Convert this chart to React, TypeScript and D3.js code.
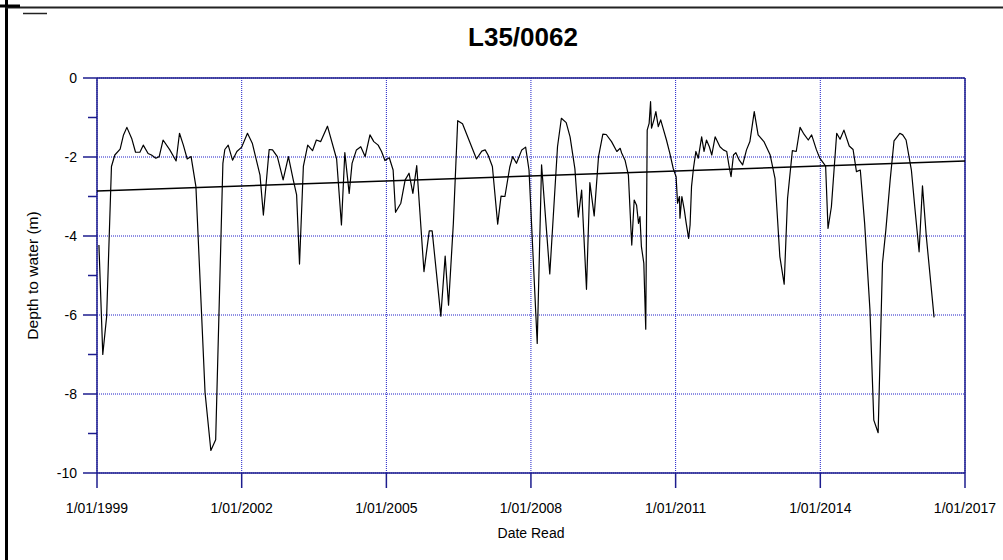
import React from 'react';
import * as d3 from 'd3';

const title = 'L35/0062';
const xLabel = 'Date Read';
const yLabel = 'Depth to water (m)';
const xTickYears = [1999, 2002, 2005, 2008, 2011, 2014, 2017];
const yMajorTicks = [0, -2, -4, -6, -8, -10];
const yMinorTicks = [-1, -3, -5, -7, -9];
const trendYears = [1999, 2017];
const trendDepths = [-2.86, -2.1];

// [decimal year, depth to water (m)]
const readings: [number, number][] = [
  [1999.04, -4.23], [1999.12, -7.0], [1999.2, -6.04], [1999.3, -2.24], [1999.37, -1.95],
  [1999.48, -1.8], [1999.55, -1.44], [1999.62, -1.25], [1999.72, -1.53], [1999.8, -1.88],
  [1999.89, -1.88], [1999.96, -1.7], [2000.06, -1.91], [2000.13, -1.95], [2000.22, -2.03],
  [2000.29, -1.99], [2000.37, -1.57], [2000.51, -1.82], [2000.64, -2.1], [2000.71, -1.4],
  [2000.79, -1.7], [2000.87, -2.05], [2000.95, -1.99], [2001.05, -2.75], [2001.24, -7.97],
  [2001.36, -9.43], [2001.46, -9.16], [2001.61, -2.16], [2001.65, -1.81], [2001.72, -1.7],
  [2001.81, -2.08], [2001.9, -1.86], [2002.0, -1.75], [2002.12, -1.4], [2002.22, -1.65],
  [2002.38, -2.46], [2002.45, -3.47], [2002.57, -1.81], [2002.64, -1.82], [2002.74, -1.99],
  [2002.86, -2.58], [2002.97, -1.99], [2003.07, -2.58], [2003.14, -2.96], [2003.2, -4.71],
  [2003.28, -2.24], [2003.37, -1.7], [2003.47, -1.84], [2003.55, -1.57], [2003.64, -1.61],
  [2003.78, -1.22], [2003.97, -2.05], [2004.07, -3.72], [2004.14, -1.89], [2004.23, -2.92],
  [2004.29, -2.16], [2004.38, -1.82], [2004.47, -1.74], [2004.56, -1.99], [2004.66, -1.44],
  [2004.74, -1.61], [2004.83, -1.7], [2004.9, -1.86], [2004.97, -2.09], [2005.06, -2.02],
  [2005.14, -2.33], [2005.19, -3.4], [2005.3, -3.17], [2005.39, -2.58], [2005.47, -2.41],
  [2005.55, -2.92], [2005.63, -2.22], [2005.78, -4.9], [2005.89, -3.87], [2005.95, -3.87],
  [2006.13, -6.03], [2006.22, -4.51], [2006.29, -5.75], [2006.39, -3.68], [2006.48, -1.08],
  [2006.58, -1.16], [2006.87, -2.05], [2006.98, -1.85], [2007.05, -1.82], [2007.11, -1.95],
  [2007.2, -2.24], [2007.31, -3.7], [2007.38, -2.99], [2007.46, -3.0], [2007.56, -2.26],
  [2007.62, -1.99], [2007.7, -2.16], [2007.81, -1.82], [2007.89, -1.75], [2007.96, -2.33],
  [2008.13, -6.72], [2008.22, -2.2], [2008.39, -4.96], [2008.55, -1.74], [2008.63, -1.02],
  [2008.73, -1.13], [2008.81, -1.49], [2008.91, -2.3], [2008.98, -3.52], [2009.05, -2.84],
  [2009.15, -5.35], [2009.22, -2.65], [2009.31, -3.49], [2009.4, -1.99], [2009.49, -1.42],
  [2009.56, -1.43], [2009.67, -1.61], [2009.78, -1.86], [2009.85, -1.78], [2009.88, -1.9],
  [2009.95, -2.08], [2010.02, -2.46], [2010.07, -3.76], [2010.09, -4.23], [2010.14, -3.09],
  [2010.19, -3.22], [2010.23, -3.68], [2010.26, -3.51], [2010.29, -4.27], [2010.34, -4.69],
  [2010.36, -5.54], [2010.38, -6.36], [2010.41, -1.32], [2010.45, -1.15], [2010.48, -0.6],
  [2010.5, -1.27], [2010.55, -1.06], [2010.59, -0.85], [2010.64, -1.23], [2010.69, -1.06],
  [2010.73, -1.23], [2010.81, -1.57], [2010.88, -1.91], [2010.95, -2.29], [2011.01, -2.5],
  [2011.04, -3.17], [2011.08, -3.0], [2011.09, -3.55], [2011.13, -3.0], [2011.18, -3.34],
  [2011.22, -3.68], [2011.27, -4.06], [2011.3, -3.72], [2011.33, -2.75], [2011.37, -2.29],
  [2011.42, -1.86], [2011.47, -2.03], [2011.54, -1.49], [2011.59, -1.86], [2011.64, -1.57],
  [2011.7, -1.74], [2011.75, -1.95], [2011.82, -1.49], [2011.92, -1.74], [2011.99, -1.82],
  [2012.06, -1.86], [2012.11, -2.24], [2012.15, -2.5], [2012.2, -1.95], [2012.25, -1.89],
  [2012.32, -2.08], [2012.39, -2.2], [2012.47, -1.82], [2012.54, -1.61], [2012.63, -0.85],
  [2012.71, -1.44], [2012.83, -1.61], [2012.96, -1.95], [2013.06, -2.54], [2013.16, -4.52],
  [2013.25, -5.22], [2013.32, -3.05], [2013.42, -1.84], [2013.5, -1.86], [2013.58, -1.25],
  [2013.65, -1.4], [2013.75, -1.57], [2013.82, -1.44], [2013.92, -1.82], [2013.99, -2.03],
  [2014.11, -2.23], [2014.16, -3.81], [2014.23, -3.26], [2014.34, -1.4], [2014.41, -1.55],
  [2014.49, -1.32], [2014.6, -1.72], [2014.68, -1.81], [2014.75, -2.37], [2014.83, -2.33],
  [2014.92, -3.68], [2015.03, -5.87], [2015.11, -8.66], [2015.2, -8.98], [2015.29, -4.69],
  [2015.36, -3.85], [2015.45, -2.58], [2015.53, -1.59], [2015.65, -1.4], [2015.71, -1.44],
  [2015.78, -1.57], [2015.89, -2.33], [2015.96, -3.26], [2016.05, -4.4], [2016.12, -2.73],
  [2016.2, -4.02], [2016.36, -6.06],
];

function toDate(y: number): Date {
  const yr = Math.floor(y);
  const s = Date.UTC(yr, 0, 1);
  const e = Date.UTC(yr + 1, 0, 1);
  return new Date(s + (y - yr) * (e - s));
}

const W = 1003;
const H = 560;
const L = 97;
const R = 965;
const T = 78;
const B = 473;

const AXIS = '#1c1c8e';
const GRID = '#1f1fc8';
const FONT = '"Liberation Sans", Arial, sans-serif';

export default function App() {
  const x = d3.scaleUtc().domain([toDate(1999), toDate(2017)]).range([L, R]);
  const y = d3.scaleLinear().domain([-10, 0]).range([B, T]);

  const line = d3
    .line<[number, number]>()
    .x((d) => x(toDate(d[0])))
    .y((d) => y(d[1]));

  const trend: [number, number][] = trendYears.map((yr, i) => [yr, trendDepths[i]]);

  return (
    <svg
      width={W}
      height={H}
      style={{ position: 'absolute', left: 0, top: 0, background: '#fff' }}
      fontFamily={FONT}
    >
      <rect x={0} y={0} width={W} height={H} fill="#fff" />
      {/* outer frame fragments */}
      <line x1={6.5} y1={0} x2={6.5} y2={H} stroke="#000" strokeWidth={3} />
      <line x1={5} y1={7.5} x2={W} y2={7.5} stroke="#222" strokeWidth={2} />
      <line x1={0} y1={6} x2={20} y2={6} stroke="#000" strokeWidth={3} />
      <line x1={23} y1={13.5} x2={47} y2={13.5} stroke="#222" strokeWidth={1.5} />

      {/* title */}
      <text x={523} y={46} textAnchor="middle" fontSize={26} fontWeight="bold" fill="#000">
        {title}
      </text>

      {/* grid */}
      {xTickYears.map((yr) => (
        <line
          key={'gx' + yr}
          x1={x(toDate(yr))}
          x2={x(toDate(yr))}
          y1={T}
          y2={B}
          stroke={GRID}
          strokeWidth={1}
          strokeDasharray="1 1"
        />
      ))}
      {yMajorTicks.map((v) => (
        <line
          key={'gy' + v}
          x1={L}
          x2={R}
          y1={y(v)}
          y2={y(v)}
          stroke={GRID}
          strokeWidth={1}
          strokeDasharray="1 1"
        />
      ))}

      {/* plot frame */}
      <line x1={L} x2={R} y1={T} y2={T} stroke={AXIS} strokeWidth={1.5} />
      <line x1={L} x2={R} y1={B} y2={B} stroke={AXIS} strokeWidth={1.5} />
      <line x1={L} x2={L} y1={T} y2={B} stroke={AXIS} strokeWidth={1.5} />
      <line x1={R} x2={R} y1={T} y2={B} stroke={AXIS} strokeWidth={1.5} />

      {/* y ticks */}
      {yMajorTicks.map((v) => (
        <g key={'yt' + v}>
          <line x1={L - 14} x2={L} y1={y(v)} y2={y(v)} stroke={AXIS} strokeWidth={1.5} />
          <text x={77} y={y(v)} dy="0.35em" textAnchor="end" fontSize={14} fill="#000">
            {v}
          </text>
        </g>
      ))}
      {yMinorTicks.map((v) => (
        <line key={'ym' + v} x1={L - 9} x2={L} y1={y(v)} y2={y(v)} stroke={AXIS} strokeWidth={1.5} />
      ))}

      {/* x ticks */}
      {xTickYears.map((yr) => (
        <g key={'xt' + yr}>
          <line
            x1={x(toDate(yr))}
            x2={x(toDate(yr))}
            y1={B}
            y2={B + 15}
            stroke={AXIS}
            strokeWidth={1.5}
          />
          <text x={x(toDate(yr))} y={513} textAnchor="middle" fontSize={14} fill="#000">
            {`1/01/${yr}`}
          </text>
        </g>
      ))}

      {/* axis labels */}
      <text x={(L + R) / 2} y={538} textAnchor="middle" fontSize={14} fill="#000">
        {xLabel}
      </text>
      <text
        transform={`translate(38, ${(T + B) / 2}) rotate(-90)`}
        textAnchor="middle"
        fontSize={15.5}
        fill="#000"
      >
        {yLabel}
      </text>

      {/* trend line */}
      <path d={line(trend) || ''} fill="none" stroke="#000" strokeWidth={1.5} />

      {/* readings */}
      <path d={line(readings) || ''} fill="none" stroke="#000" strokeWidth={1.2} strokeLinejoin="round" />
    </svg>
  );
}
